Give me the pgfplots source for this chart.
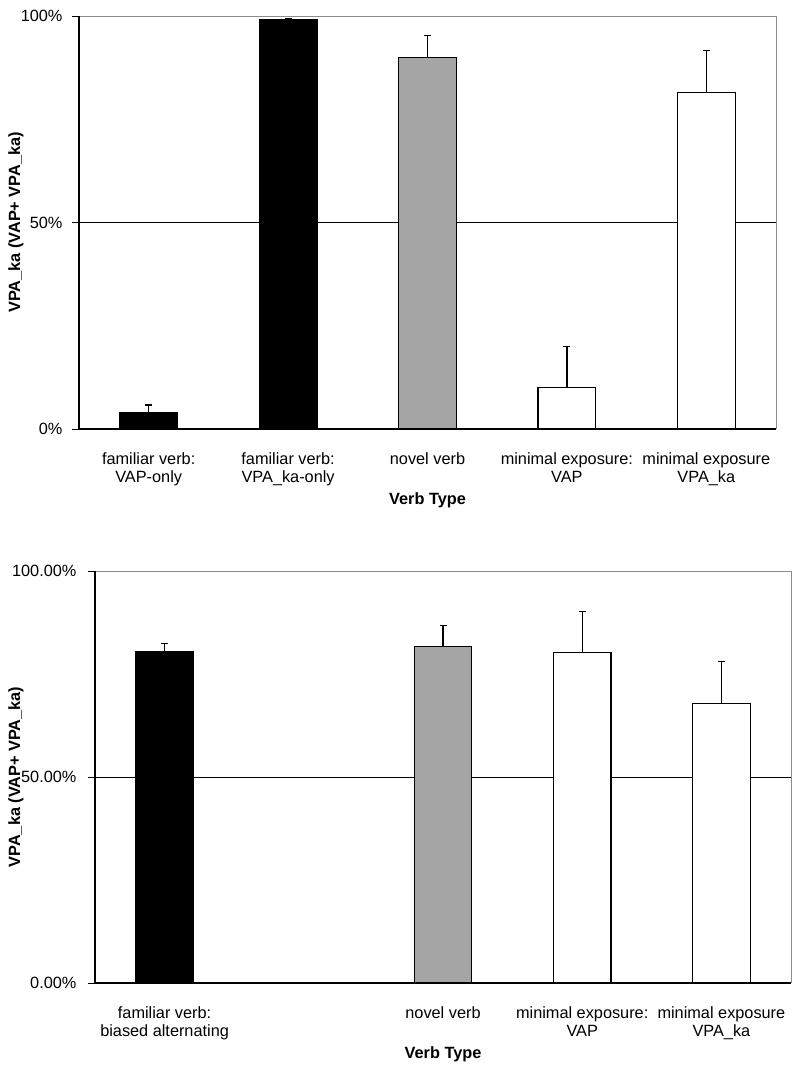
\documentclass[border=0pt]{standalone}
\usepackage{fontspec}
\setmainfont{Liberation Sans}
\usepackage{pgfplots}
\pgfplotsset{compat=1.18}
\usepackage{pgfplotstable}
\definecolor{bargray}{RGB}{165,165,165}
\definecolor{framegray}{RGB}{140,140,140}

% top chart
\pgfplotstableread{
x y e
1 3.9 1.9
2 99.2 0.2
}\topblack
\pgfplotstableread{
x y e
3 90.0 5.2
}\topgray
\pgfplotstableread{
x y e
4 10.1 9.8
5 81.4 10.2
}\topwhite
% bottom chart
\pgfplotstableread{
x y e
1 80.4 2.0
}\botblack
\pgfplotstableread{
x y e
3 81.7 5.1
}\botgray
\pgfplotstableread{
x y e
4 80.3 9.8
5 67.8 10.2
}\botwhite

\pgfplotsset{
  mychart/.style={
    scale only axis, ybar,
    ymin=0, ymax=100, xmin=0.5, xmax=5.5,
    clip=false,
    axis line style={draw=none},
    tick pos=left, tick align=outside,
    major tick length=7pt, minor tick length=7pt,
    ytick={0,50,100},
    y tick style={black, line width=0.8pt},
    xtick={1,2,3,4,5},
    x tick style={draw=none},
    minor xtick={0.5,1.5,2.5,3.5,4.5,5.5},
    minor x tick style={black, line width=0.8pt},
    ymajorgrids, major grid style={black, line width=0.8pt},
    font=\fontsize{16.3}{18.4}\selectfont,
    ticklabel style={font=\fontsize{16.3}{18.4}\selectfont},
    xticklabel style={align=center, yshift=-13pt},
    label style={font=\fontsize{16.3}{18.4}\selectfont\bfseries},
    bar width=0.415,
  },
  mybar/.style={
    draw=black, line width=1.2pt, bar shift=0pt,
    error bars/.cd, y dir=plus, y explicit,
    error bar style={line width=1.2pt, black},
    error mark options={rotate=90, mark size=3.5pt, line width=1.2pt, black},
  },
}

\begin{document}
\begin{tikzpicture}[x=1pt,y=1pt]
\path[use as bounding box] (0,0) rectangle (800,1067);

\begin{axis}[mychart,
  at={(79pt,638pt)}, anchor=south west,
  width=697pt, height=413pt,
  yticklabels={0\%,50\%,100\%},
  yticklabel style={xshift=-6pt},
  xticklabels={{familiar verb:\\VAP-only},{familiar verb:\\VPA\_ka-only},{novel verb},{minimal exposure:\\VAP},{minimal exposure\\VPA\_ka}},
  xlabel={Verb Type},
  ylabel={VPA\_ka (VAP+ VPA\_ka)},
  xlabel style={at={(axis description cs:0.5,-0.172)}, anchor=center},
  ylabel style={at={(axis description cs:-0.0904,0.5)}, anchor=center},
]
\addplot[fill=black, mybar] table[x=x,y=y,y error=e]{\topblack};
\addplot[fill=bargray, mybar] table[x=x,y=y,y error=e]{\topgray};
\addplot[fill=white, mybar] table[x=x,y=y,y error=e]{\topwhite};
\draw[framegray, line width=0.8pt] (rel axis cs:0,1) -- (rel axis cs:1,1) -- (rel axis cs:1,0);
\draw[black, line width=1.5pt] (rel axis cs:1,0) -- (rel axis cs:0,0);
\draw[black, line width=2pt] (rel axis cs:0,0) -- (rel axis cs:0,1);
\end{axis}

\begin{axis}[mychart,
  at={(95pt,84pt)}, anchor=south west,
  width=696pt, height=412pt,
  yticklabels={0.00\%,50.00\%,100.00\%},
  yticklabel style={xshift=-8pt},
  xticklabels={{familiar verb:\\biased alternating},{},{novel verb},{minimal exposure:\\VAP},{minimal exposure\\VPA\_ka}},
  xlabel={Verb Type},
  ylabel={VPA\_ka (VAP+ VPA\_ka)},
  xlabel style={at={(axis description cs:0.5,-0.174)}, anchor=center},
  ylabel style={at={(axis description cs:-0.1135,0.5)}, anchor=center},
]
\addplot[fill=black, mybar] table[x=x,y=y,y error=e]{\botblack};
\addplot[fill=bargray, mybar] table[x=x,y=y,y error=e]{\botgray};
\addplot[fill=white, mybar] table[x=x,y=y,y error=e]{\botwhite};
\draw[framegray, line width=0.8pt] (rel axis cs:0,1) -- (rel axis cs:1,1) -- (rel axis cs:1,0);
\draw[black, line width=1.5pt] (rel axis cs:1,0) -- (rel axis cs:0,0);
\draw[black, line width=2pt] (rel axis cs:0,0) -- (rel axis cs:0,1);
\end{axis}
\end{tikzpicture}
\end{document}
